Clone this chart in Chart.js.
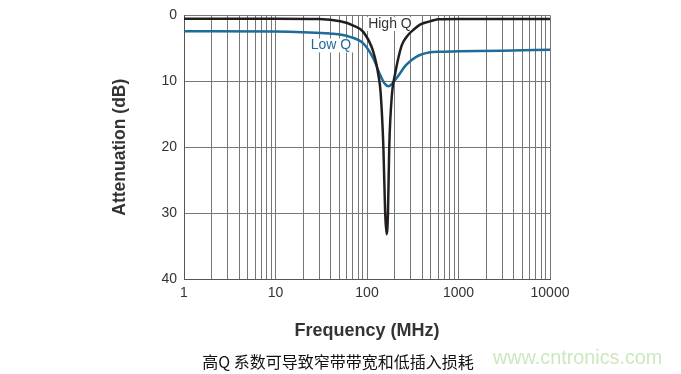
<!DOCTYPE html>
<html>
<head>
<meta charset="utf-8">
<script src="https://cdn.jsdelivr.net/npm/chart.js@4/dist/chart.umd.min.js"></script>
<style>
  body { margin: 0; background: #fff; }
</style>
</head>
<body>
<canvas id="qChart" width="681" height="374"></canvas>
<script>
// axis ticks
const decadeLabels = [1, 10, 100, 1000, 10000];   // MHz
const dbTicks = [0, 10, 20, 30, 40];

// High Q curve (MHz, dB attenuation)
const highQFreq = [1, 10, 30, 51, 70, 91, 117, 133, 141, 151, 158, 164, 169.5, 175, 188, 202, 239, 280, 321, 380, 488, 600, 1000, 10000];
const highQDb   = [0.5, 0.5, 0.55, 0.9, 1.5, 2.5, 5.5, 9.0, 11.75, 20, 30, 33.2, 30, 20, 11.75, 9.0, 4.6, 3.0, 2.2, 1.4, 0.9, 0.6, 0.55, 0.55];

// Low Q curve
const lowQFreq = [1, 10, 20, 39, 65, 91, 117, 139, 155, 171, 190, 211, 268, 349, 488, 630, 1000, 3000, 10000];
const lowQDb   = [2.4, 2.45, 2.55, 2.75, 3.25, 4.25, 6.5, 9.0, 10.3, 10.75, 10.3, 9.5, 7.5, 6.25, 5.6, 5.5, 5.45, 5.35, 5.2];

// curve name labels
const curveNames = ['High Q', 'Low Q'];
const curveColors = ['#231f20', '#1f6b99'];
const nameFreq = [178, 40.4];
const nameDb = [1.3, 4.56];

const caption = '高Q 系数可导致窄带带宽和低插入损耗';
const watermark = 'www.cntronics.com';

// log grid: 1..9 in every decade
const gridTicks = [];
decadeLabels.slice(0, -1).forEach(d => {
    for (let m = 1; m < 10; m++) gridTicks.push(d * m);
});
gridTicks.push(decadeLabels[decadeLabels.length - 1]);

const sans = '"Liberation Sans", Arial, Helvetica, sans-serif';

const textPlugin = {
    id: 'texts',
    beforeDatasetsDraw(chart) {
        // white boxes behind the curve names
        const {ctx, scales: {x, y}} = chart;
        ctx.save();
        ctx.font = '14px ' + sans;
        curveNames.forEach((name, i) => {
            const px = x.getPixelForValue(nameFreq[i]);
            const py = y.getPixelForValue(nameDb[i]);
            const w = ctx.measureText(name).width;
            ctx.fillStyle = '#fff';
            ctx.fillRect(px - w / 2 - 2, py - 7, w + 4, 14);
        });
        ctx.restore();
    },
    afterDatasetsDraw(chart) {
        const {ctx, scales: {x, y}} = chart;
        ctx.save();
        ctx.font = '14px ' + sans;
        ctx.textAlign = 'center';
        ctx.textBaseline = 'middle';
        curveNames.forEach((name, i) => {
            ctx.fillStyle = i === 0 ? '#333' : curveColors[i];
            ctx.fillText(name, x.getPixelForValue(nameFreq[i]), y.getPixelForValue(nameDb[i]));
        });

        ctx.font = '16px "Noto Sans CJK SC", sans-serif';
        ctx.fillStyle = '#111';
        ctx.fillText(caption, 338, 362);

        ctx.font = '19.8px ' + sans;
        ctx.textAlign = 'left';
        ctx.fillStyle = '#cde7c0';
        ctx.fillText(watermark, 493, 359);
        ctx.restore();
    }
};

const ctx = document.getElementById('qChart').getContext('2d');

new Chart(ctx, {
    type: 'line',
    data: {
        datasets: [{
            label: 'High Q',
            data: highQFreq.map((f, i) => ({x: f, y: highQDb[i]})),
            borderColor: curveColors[0],
            borderWidth: 2.5,
            pointRadius: 0,
            cubicInterpolationMode: 'monotone',
            fill: false
        }, {
            label: 'Low Q',
            data: lowQFreq.map((f, i) => ({x: f, y: lowQDb[i]})),
            borderColor: curveColors[1],
            borderWidth: 2.5,
            pointRadius: 0,
            cubicInterpolationMode: 'monotone',
            fill: false
        }]
    },
    options: {
        responsive: false,
        animation: false,
        devicePixelRatio: 1,
        layout: {
            padding: {left: 110, right: 131, top: 11.6, bottom: 32.2}
        },
        plugins: {
            legend: {display: false},
            tooltip: {enabled: false}
        },
        scales: {
            x: {
                type: 'logarithmic',
                min: 1,
                max: 10000,
                afterBuildTicks: scale => {
                    scale.ticks = gridTicks.map(v => ({value: v}));
                },
                afterFit: scale => { scale.height = 62.8; },
                ticks: {
                    autoSkip: false,
                    maxRotation: 0,
                    padding: 6,
                    color: '#333',
                    font: {family: sans, size: 14},
                    callback: v => decadeLabels.includes(v) ? String(v) : ''
                },
                grid: {color: '#777', drawTicks: false},
                border: {color: '#555'},
                title: {
                    display: true,
                    text: 'Frequency (MHz)',
                    color: '#333',
                    padding: 0,
                    font: {family: sans, size: 18, weight: 'bold'}
                }
            },
            y: {
                type: 'linear',
                reverse: true,
                min: dbTicks[0],
                max: dbTicks[dbTicks.length - 1],
                afterFit: scale => { scale.width = 74; },
                ticks: {
                    stepSize: 10,
                    padding: 7,
                    color: '#333',
                    font: {family: sans, size: 14}
                },
                grid: {color: '#777', drawTicks: false},
                border: {color: '#555'},
                title: {
                    display: true,
                    text: 'Attenuation (dB)',
                    color: '#333',
                    padding: 0,
                    font: {family: sans, size: 17.5, weight: 'bold'}
                }
            }
        }
    },
    plugins: [textPlugin]
});
</script>
</body>
</html>
